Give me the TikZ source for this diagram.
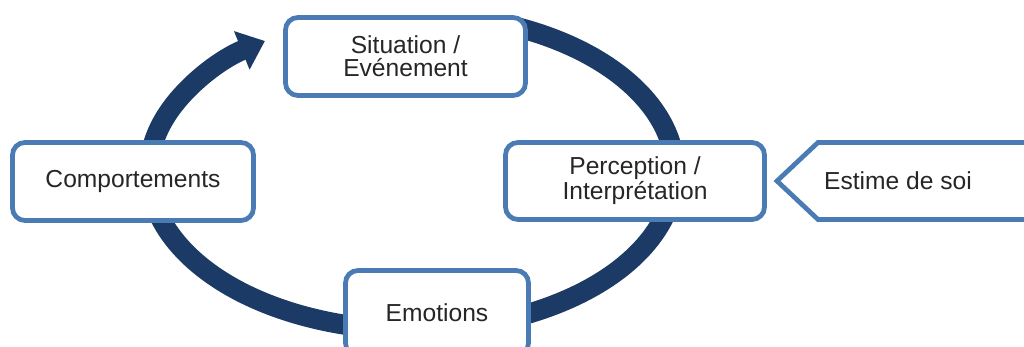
\documentclass[tikz,border=0pt]{standalone}
\usepackage{fontspec}
\setmainfont{Liberation Sans}
\definecolor{cNavy}{HTML}{1B3A66}
\definecolor{cFrame}{HTML}{4B7BB5}
\definecolor{cText}{HTML}{262626}
\usetikzlibrary{arrows.meta}
\usetikzlibrary{shadows}

\tikzset{
  stageframe/.style={draw=cFrame, line width=2.7pt, fill=white, drop shadow={opacity=0.15, shadow xshift=0.6pt, shadow yshift=-1.2pt}},
  stage/.style={stageframe, rounded corners=0.25cm, align=center, text=cText, font=\fontsize{14}{13}\selectfont, inner sep=0pt},
  loopring/.style={cNavy, line width=0.4cm, -{Triangle[length=0.5cm, width=0.8cm]}}
}

\begin{document}
\begin{tikzpicture}
		\useasboundingbox (0,0) rectangle (20.48,6.94);
		\coordinate (ringc) at (8.24,3.5);
		\draw [loopring] (ringc) ++(68:5.26cm and 3.16cm) arc[start angle=68, end angle=-236, x radius=5.26cm, y radius=3.16cm];
		\node [stage, minimum width=4.8cm, minimum height=1.56cm] (situation) at (8.11,5.81) {Situation /\\Evénement};
		\node [stage, minimum width=5.18cm, minimum height=1.54cm] (perception) at (12.7,3.32) {Perception /\\Interprétation};
		\node [stage, minimum width=4.82cm, minimum height=1.56cm] (comportements) at (2.66,3.31) {Comportements};
		\node [stage, minimum width=3.66cm, minimum height=1.7cm] (emotions) at (8.74,0.68) {Emotions};
		\coordinate (tip) at (15.54,3.32);
		\draw [stageframe] (21,4.09) -- (16.36,4.09) -- (tip) -- (16.36,2.55) -- (21,2.55);
		\node [text=cText, font=\fontsize{14}{13}\selectfont] (estime) at (17.96,3.32) {Estime de soi};
\end{tikzpicture}
\end{document}
